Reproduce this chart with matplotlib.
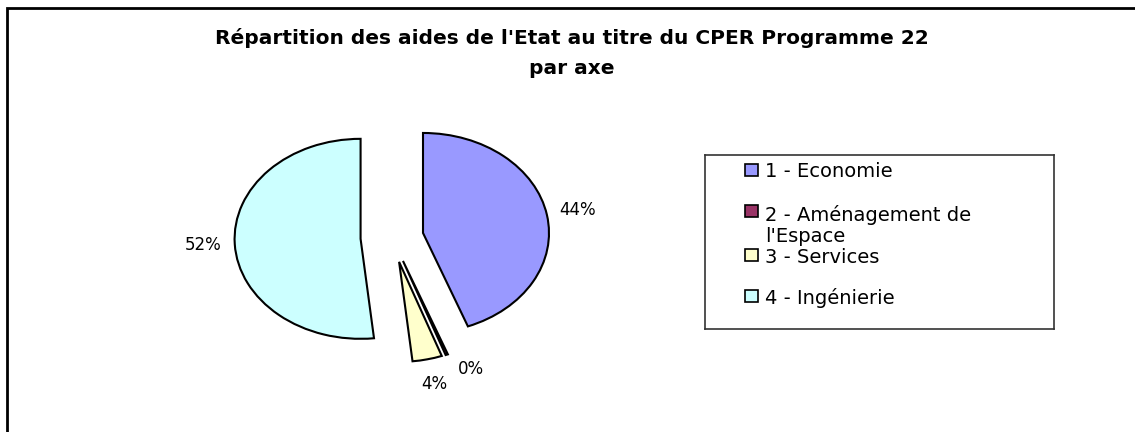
import matplotlib
matplotlib.use("Agg")
import matplotlib.pyplot as plt
from matplotlib.patches import Rectangle

# Données
categories = ["1 - Economie", "2 - Aménagement de\nl'Espace", "3 - Services", "4 - Ingénierie"]
values = [44.2, 0.3, 3.8, 51.7]
colors = ["#9999FF", "#993366", "#FFFFCC", "#CCFFFF"]
title = "Répartition des aides de l'Etat au titre du CPER Programme 22\npar axe"

W, H = 1135, 432
fig = plt.figure(figsize=(W / 100, H / 100), dpi=100)
fig.patch.set_facecolor("white")

# cadre (seuls les bords haut et gauche sont visibles)
fig.add_artist(Rectangle((7 / W, -0.1), 1.2, 1.1 - 8 / H, transform=fig.transFigure,
                         fill=False, edgecolor="black", linewidth=2))

fig.text(0.504, 1 - 28 / H, title, ha="center", va="top", fontsize=14.5,
         fontweight="bold", linespacing=1.75)

# camembert éclaté (légèrement elliptique comme dans Excel)
ax = fig.add_axes([0.1678, 0.0799, 0.3552, 0.7407])
pct_labels = [f"{v:.0f}%" for v in values]
wedges, texts = ax.pie(values, explode=[0.25] * len(values), colors=colors,
                       startangle=90, counterclock=False, labels=pct_labels,
                       labeldistance=1.25,
                       wedgeprops=dict(edgecolor="black", linewidth=1.5),
                       textprops=dict(fontsize=12))
for t in texts:
    t.set_ha("center")
    t.set_va("center")
texts[1].set_ha("left")
texts[1].set_va("bottom")
ax.set_aspect("auto")
ax.set_xlim(-1.6, 1.6)
ax.set_ylim(-1.6, 1.6)
ax.axis("off")

# légende dessinée à la main
lax = fig.add_axes([705 / W, (H - 329) / H, 349 / W, 174 / H])
lax.set_xlim(0, 1)
lax.set_ylim(0, 1)
lax.set_xticks([])
lax.set_yticks([])
for s in lax.spines.values():
    s.set_linewidth(1.2)
    s.set_color("#333333")
row_y = [0.914, 0.678, 0.425, 0.19]
line_h = 11 / 174
for y, lab, col in zip(row_y, categories, colors):
    lax.add_patch(Rectangle((0.1146, y - 0.034), 0.037, 0.069, facecolor=col,
                            edgecolor="black", linewidth=1.2))
    n = lab.count("\n")
    lax.text(0.172, y - n * line_h, lab, ha="left", va="center_baseline",
             fontsize=14, linespacing=1.15)

fig.savefig("out.png", dpi=100)
